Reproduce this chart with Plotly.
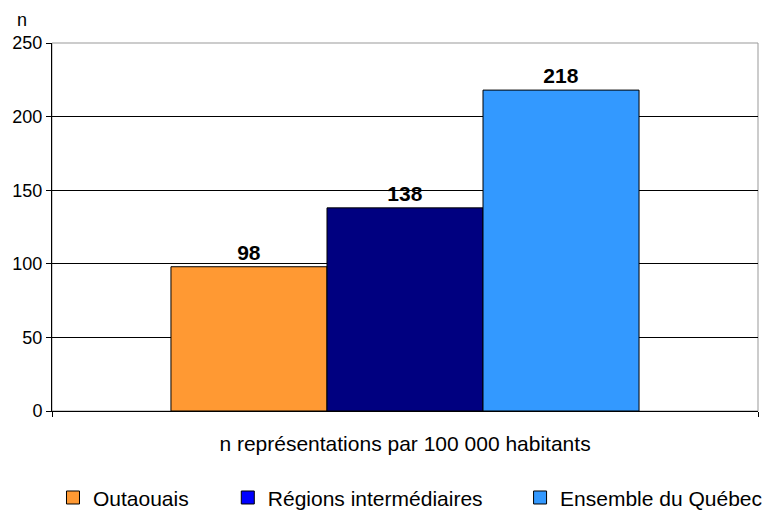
import plotly.graph_objects as go

category = ["n représentations par 100 000 habitants"]
series_names = ["Outaouais", "Régions intermédiaires", "Ensemble du Québec"]
values = [98, 138, 218]
bar_colors = ["#FF9933", "#000080", "#3399FF"]
legend_colors = ["#FF9933", "#0000FF", "#3399FF"]
y_ticks = [0, 50, 100, 150, 200, 250]

font = "Liberation Sans, Arial, sans-serif"
legend_ids = ["legend", "legend2", "legend3"]
legend_x = [0.0014, 0.249, 0.663]

fig = go.Figure()
for name, v, c in zip(series_names, values, bar_colors):
    fig.add_trace(go.Bar(
        x=category, y=[v], name=name, showlegend=False,
        marker=dict(color=c, line=dict(color="#000000", width=1)),
        text=[str(v)], textposition="outside", cliponaxis=False,
        textfont=dict(family=font, size=21, color="#000000", weight="bold"),
    ))
for name, c, lid in zip(series_names, legend_colors, legend_ids):
    fig.add_trace(go.Scatter(
        x=[None], y=[None], name=name, mode="markers", showlegend=True, legend=lid,
        marker=dict(symbol="square", size=13, color=c, line=dict(color="#000000", width=1)),
    ))

legend_common = dict(orientation="h", y=-0.236, yanchor="middle", xanchor="left",
                     font=dict(family=font, size=21, color="#000000"), itemwidth=30,
                     bgcolor="rgba(0,0,0,0)")

fig.update_layout(
    width=773, height=510,
    margin=dict(l=52, r=15, t=43, b=99, autoexpand=False),
    paper_bgcolor="white", plot_bgcolor="white",
    barmode="group", bargap=0.337, bargroupgap=0,
    font=dict(family=font, size=18, color="#000000"),
    showlegend=True,
    legend=dict(x=legend_x[0], **legend_common),
    legend2=dict(x=legend_x[1], **legend_common),
    legend3=dict(x=legend_x[2], **legend_common),
    xaxis=dict(showline=True, linecolor="#000000", linewidth=1, ticks="outside",
               tickson="boundaries", ticklen=5, tickcolor="#000000", automargin=False,
               tickfont=dict(family=font, size=21), range=[-0.5, 0.5],
               ticklabelstandoff=14),
    yaxis=dict(range=[0, 250], tickvals=y_ticks, showgrid=True, gridcolor="#000000",
               gridwidth=1, showline=True, linecolor="#000000", linewidth=1,
               ticks="outside", ticklen=5, tickcolor="#000000", automargin=False,
               tickfont=dict(family=font, size=18), zeroline=False),
)
fig.add_shape(type="rect", xref="paper", yref="paper", x0=0, x1=1, y0=0, y1=1,
              line=dict(color="#999999", width=1), layer="below")
fig.add_annotation(text="n", xref="paper", yref="paper", x=-0.042, y=1.03,
                   xanchor="center", yanchor="bottom", showarrow=False,
                   font=dict(family=font, size=18))
fig.write_html("out.html", config={"displayModeBar": False},
               post_script="document.body.style.margin='0';")
